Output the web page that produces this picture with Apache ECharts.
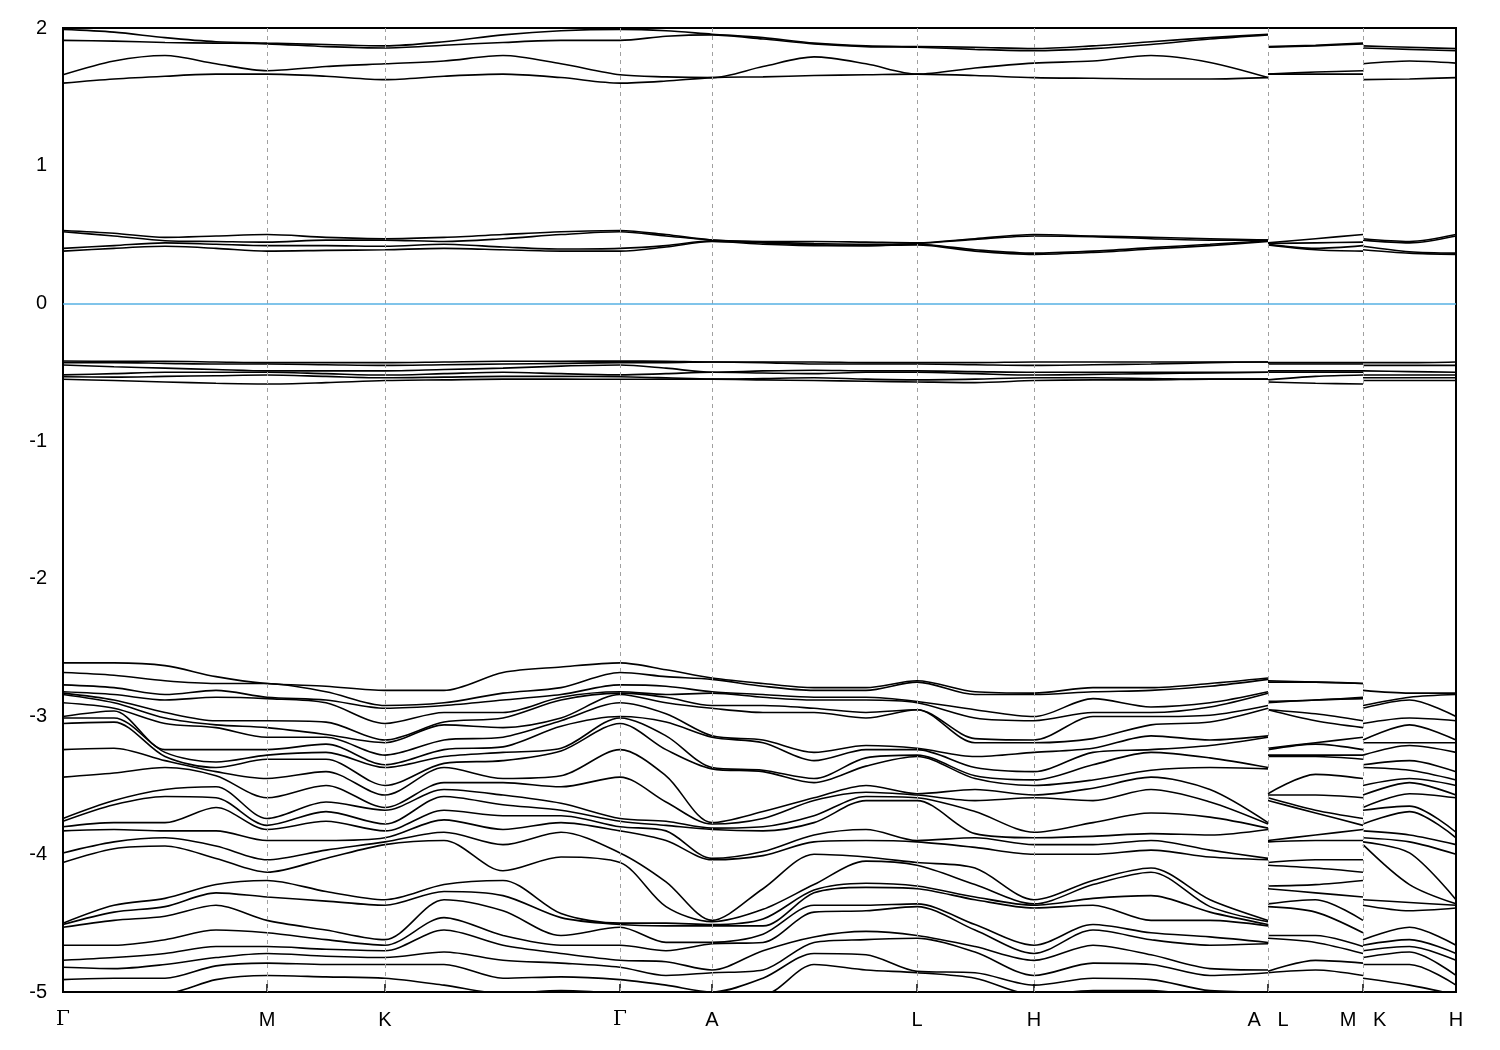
<!DOCTYPE html>
<html><head><meta charset="utf-8">
<script src="https://cdn.jsdelivr.net/npm/echarts@6/dist/echarts.min.js"></script>
<style>html,body{margin:0;padding:0;background:#fff}#c{width:1500px;height:1050px}</style>
</head><body><div id="c"></div>
<script>
// k-path coordinates (path distance units)
const kMain = [0,51,102,153,204,263,322,381,440,498,557,603,649,700,751,803,854,912,971,1030,1088,1147,1205];
const kLM = [1205,1252.5,1300];
const kKH = [1300,1346.5,1393];
const symPos = [0,204,322,557,649,854,971,1205,1300,1393];
const symLabels = ['Γ','M','K','Γ','A','L','H','A   L','M   K','H'];

// lower valence manifold: energies (eV) at each k column
const lowG = [-2.61,-2.68,-2.77,-2.82,-2.83,-2.84,-2.90,-3.00,-3.01,-3.05,-3.24,-3.44,-3.74,-3.76,-3.80,-3.83,-3.99,-4.06,-4.50,-4.51,-4.53,-4.66,-4.77,-4.82,-4.91,-5.01];
const gm1 = [-2.61,-2.70,-2.79,-2.84,-2.88,-2.90,-2.94,-2.96,-3.01,-3.04,-3.23,-3.41,-3.61,-3.64,-3.77,-3.82,-3.91,-3.96,-4.37,-4.42,-4.48,-4.66,-4.75,-4.83,-4.90,-5.00];
const gm2 = [-2.63,-2.74,-2.84,-2.88,-2.97,-3.01,-3.05,-3.24,-3.26,-3.29,-3.32,-3.37,-3.53,-3.58,-3.77,-3.83,-3.88,-3.94,-4.32,-4.38,-4.45,-4.62,-4.72,-4.80,-4.90,-5.01];
const gm3 = [-2.71,-2.76,-2.81,-2.86,-3.03,-3.06,-3.08,-3.24,-3.33,-3.37,-3.40,-3.43,-3.51,-3.59,-3.66,-3.83,-3.94,-4.03,-4.22,-4.28,-4.37,-4.55,-4.67,-4.75,-4.81,-4.91];
const lowM = [-2.76,-2.76,-2.86,-2.87,-3.03,-3.08,-3.15,-3.24,-3.28,-3.31,-3.45,-3.59,-3.74,-3.79,-3.82,-3.90,-4.04,-4.13,-4.19,-4.31,-4.48,-4.57,-4.67,-4.72,-4.79,-4.88];
const mk1 = [-2.78,-2.82,-2.88,-2.90,-3.04,-3.13,-3.15,-3.20,-3.26,-3.31,-3.40,-3.50,-3.62,-3.69,-3.76,-3.90,-3.97,-4.03,-4.27,-4.34,-4.55,-4.62,-4.69,-4.74,-4.80,-4.89];
const lowK = [-2.81,-2.92,-2.94,-3.05,-3.17,-3.19,-3.28,-3.35,-3.37,-3.50,-3.57,-3.66,-3.68,-3.78,-3.83,-3.88,-3.91,-3.93,-4.33,-4.37,-4.62,-4.66,-4.70,-4.75,-4.80,-4.90];
const kg1 = [-2.81,-2.90,-2.92,-2.97,-3.04,-3.06,-3.17,-3.24,-3.29,-3.34,-3.37,-3.48,-3.53,-3.58,-3.68,-3.75,-3.84,-3.90,-4.22,-4.27,-4.33,-4.46,-4.55,-4.71,-4.80,-4.95];
const kg2 = [-2.68,-2.83,-2.88,-2.97,-3.01,-3.08,-3.15,-3.22,-3.26,-3.32,-3.45,-3.48,-3.57,-3.64,-3.72,-3.82,-3.93,-4.12,-4.19,-4.30,-4.41,-4.59,-4.66,-4.77,-4.90,-5.01];
const kg3 = [-2.64,-2.79,-2.84,-2.86,-2.88,-3.01,-3.03,-3.07,-3.23,-3.25,-3.43,-3.51,-3.63,-3.68,-3.72,-3.77,-3.84,-4.02,-4.43,-4.46,-4.59,-4.66,-4.72,-4.79,-4.89,-4.99];
const ga1 = [-2.66,-2.71,-2.78,-2.84,-2.86,-2.90,-2.98,-3.04,-3.14,-3.24,-3.43,-3.62,-3.76,-3.79,-3.83,-3.90,-4.20,-4.38,-4.50,-4.52,-4.64,-4.70,-4.78,-4.88,-4.95,-5.03];
const lowA = [-2.72,-2.73,-2.82,-2.83,-2.92,-2.94,-3.14,-3.15,-3.37,-3.38,-3.77,-3.78,-3.81,-3.82,-4.03,-4.04,-4.48,-4.49,-4.51,-4.52,-4.64,-4.65,-4.84,-4.86,-5.00,-5.01];
const al1 = [-2.76,-2.78,-2.84,-2.86,-2.92,-2.97,-3.17,-3.19,-3.39,-3.40,-3.69,-3.74,-3.80,-3.83,-3.98,-4.01,-4.25,-4.40,-4.47,-4.52,-4.58,-4.64,-4.70,-4.84,-4.90,-5.02];
const al2 = [-2.79,-2.81,-2.86,-2.88,-2.94,-2.97,-3.26,-3.32,-3.45,-3.48,-3.59,-3.61,-3.72,-3.77,-3.86,-3.91,-4.00,-4.22,-4.26,-4.28,-4.37,-4.42,-4.60,-4.64,-4.72,-4.80];
const al3 = [-2.79,-2.81,-2.86,-2.88,-2.97,-3.01,-3.21,-3.24,-3.30,-3.36,-3.50,-3.55,-3.58,-3.61,-3.82,-3.90,-4.02,-4.05,-4.21,-4.24,-4.37,-4.41,-4.56,-4.62,-4.73,-4.84];
const lowL = [-2.74,-2.75,-2.89,-2.90,-2.95,-2.95,-3.23,-3.24,-3.28,-3.29,-3.56,-3.57,-3.59,-3.61,-3.90,-3.91,-4.06,-4.08,-4.23,-4.25,-4.36,-4.38,-4.59,-4.61,-4.85,-4.86];
const lh1 = [-2.82,-2.84,-2.95,-3.01,-3.16,-3.19,-3.29,-3.37,-3.43,-3.45,-3.53,-3.61,-3.69,-3.85,-3.88,-3.95,-4.10,-4.22,-4.31,-4.33,-4.51,-4.55,-4.67,-4.71,-4.86,-4.90];
const lowH = [-2.83,-2.84,-3.00,-3.03,-3.17,-3.19,-3.26,-3.40,-3.46,-3.50,-3.57,-3.59,-3.84,-3.88,-3.93,-4.00,-4.33,-4.36,-4.37,-4.39,-4.66,-4.72,-4.77,-4.88,-4.95,-5.02];
const ha1 = [-2.79,-2.82,-2.87,-2.97,-3.00,-3.16,-3.23,-3.26,-3.35,-3.46,-3.52,-3.61,-3.77,-3.87,-3.93,-4.00,-4.19,-4.22,-4.32,-4.37,-4.51,-4.55,-4.66,-4.79,-4.90,-4.99];
const ha2 = [-2.79,-2.81,-2.93,-2.97,-3.00,-3.06,-3.14,-3.24,-3.26,-3.39,-3.44,-3.53,-3.70,-3.85,-3.90,-3.97,-4.10,-4.13,-4.30,-4.48,-4.57,-4.62,-4.73,-4.80,-4.91,-4.99];
const ha3 = [-2.76,-2.78,-2.90,-2.93,-2.99,-3.04,-3.17,-3.21,-3.30,-3.37,-3.53,-3.62,-3.73,-3.86,-3.97,-4.02,-4.33,-4.38,-4.42,-4.48,-4.60,-4.66,-4.83,-4.88,-4.99,-5.03];
const lm1 = [-2.75,-2.75,-2.88,-2.88,-2.98,-3.03,-3.19,-3.20,-3.28,-3.29,-3.42,-3.57,-3.68,-3.70,-3.86,-3.90,-4.04,-4.10,-4.22,-4.28,-4.33,-4.42,-4.59,-4.64,-4.77,-4.84];
const kh1 = [-2.83,-2.86,-2.88,-3.01,-3.06,-3.19,-3.21,-3.32,-3.39,-3.45,-3.48,-3.56,-3.65,-3.69,-3.86,-3.91,-3.99,-4.22,-4.35,-4.41,-4.53,-4.62,-4.67,-4.71,-4.80,-4.95];

// conduction bands near 1.6-2.0 eV (main path, L-M, K-H)
const cb1 = [1.99,1.97,1.93,1.90,1.89,1.88,1.87,1.90,1.95,1.98,1.99,1.98,1.955,1.93,1.89,1.87,1.865,1.86,1.85,1.87,1.90,1.93,1.955];
const cb2 = [1.91,1.905,1.895,1.89,1.885,1.865,1.855,1.875,1.895,1.91,1.91,1.94,1.95,1.92,1.885,1.865,1.86,1.845,1.835,1.85,1.88,1.92,1.95];
const cb3 = [1.66,1.76,1.80,1.74,1.69,1.72,1.74,1.76,1.80,1.74,1.66,1.645,1.64,1.72,1.79,1.74,1.665,1.71,1.745,1.76,1.80,1.75,1.64];
const cb4 = [1.60,1.63,1.65,1.665,1.665,1.65,1.625,1.65,1.665,1.64,1.60,1.615,1.64,1.645,1.655,1.66,1.665,1.655,1.64,1.635,1.63,1.63,1.64];
const cbLM = [[1.865,1.875,1.89],[1.86,1.87,1.885],[1.665,1.68,1.69],[1.665,1.665,1.665]];
const cbKH = [[1.87,1.86,1.85],[1.855,1.845,1.835],[1.74,1.76,1.745],[1.625,1.63,1.64]];

// bands near 0.35-0.55 eV
const mb1 = [0.53,0.51,0.48,0.49,0.50,0.48,0.47,0.48,0.50,0.52,0.53,0.50,0.46,0.45,0.45,0.445,0.44,0.47,0.50,0.49,0.48,0.47,0.46];
const mb2 = [0.52,0.49,0.455,0.45,0.445,0.46,0.46,0.45,0.47,0.50,0.52,0.49,0.46,0.44,0.425,0.42,0.435,0.465,0.49,0.485,0.47,0.46,0.46];
const mb3 = [0.40,0.42,0.44,0.43,0.42,0.42,0.415,0.43,0.41,0.395,0.40,0.42,0.455,0.445,0.435,0.43,0.43,0.39,0.365,0.38,0.405,0.43,0.455];
const mb4 = [0.38,0.40,0.415,0.40,0.38,0.385,0.39,0.40,0.39,0.38,0.38,0.41,0.45,0.43,0.42,0.42,0.425,0.38,0.356,0.37,0.395,0.42,0.45];
const mbLM = [[0.44,0.47,0.50],[0.435,0.44,0.445],[0.43,0.40,0.42],[0.425,0.39,0.38]];
const mbKH = [[0.47,0.45,0.50],[0.46,0.44,0.49],[0.415,0.375,0.365],[0.39,0.365,0.356]];

// valence bands near -0.5 eV
const vb1 = [-0.418,-0.42,-0.42,-0.425,-0.43,-0.43,-0.43,-0.425,-0.42,-0.42,-0.418,-0.42,-0.425,-0.425,-0.425,-0.43,-0.43,-0.43,-0.425,-0.425,-0.425,-0.425,-0.425];
const vb2 = [-0.43,-0.43,-0.435,-0.44,-0.44,-0.445,-0.45,-0.445,-0.44,-0.435,-0.43,-0.43,-0.425,-0.43,-0.44,-0.44,-0.44,-0.445,-0.45,-0.445,-0.44,-0.43,-0.425];
const vb3 = [-0.447,-0.46,-0.47,-0.48,-0.49,-0.49,-0.49,-0.48,-0.47,-0.455,-0.447,-0.47,-0.50,-0.49,-0.485,-0.49,-0.49,-0.495,-0.50,-0.50,-0.50,-0.50,-0.50];
const vb4 = [-0.519,-0.51,-0.50,-0.50,-0.50,-0.51,-0.52,-0.51,-0.50,-0.51,-0.519,-0.51,-0.50,-0.505,-0.51,-0.50,-0.50,-0.51,-0.52,-0.515,-0.51,-0.505,-0.50];
const vb5 = [-0.532,-0.535,-0.53,-0.525,-0.52,-0.53,-0.54,-0.535,-0.53,-0.53,-0.532,-0.54,-0.55,-0.545,-0.54,-0.55,-0.555,-0.55,-0.54,-0.54,-0.545,-0.55,-0.55];
const vb6 = [-0.551,-0.56,-0.57,-0.58,-0.585,-0.575,-0.56,-0.555,-0.55,-0.55,-0.551,-0.55,-0.55,-0.555,-0.56,-0.565,-0.57,-0.575,-0.56,-0.555,-0.555,-0.55,-0.55];
const vbLM = [[-0.43,-0.43,-0.43],[-0.44,-0.44,-0.44],[-0.49,-0.49,-0.49],[-0.50,-0.50,-0.50],[-0.555,-0.53,-0.52],[-0.57,-0.58,-0.585]];
const vbKH = [[-0.43,-0.43,-0.425],[-0.45,-0.45,-0.45],[-0.49,-0.495,-0.50],[-0.52,-0.52,-0.52],[-0.54,-0.54,-0.54],[-0.56,-0.56,-0.56]];

const lowMainCols = [lowG,gm1,gm2,gm3,lowM,mk1,lowK,kg1,kg2,kg3,lowG,ga1,lowA,al1,al2,al3,lowL,lh1,lowH,ha1,ha2,ha3,lowA];
const lowLMCols = [lowL,lm1,lowM];
const lowKHCols = [lowK,kh1,lowH];

const series = [];
const lineStyle = {color:'#000', width:1.6};
function addLine(ks, vals){
  series.push({type:'line', data: ks.map((k,j)=>[k, vals[j]]), symbol:'none', smooth:0.3,
    lineStyle: lineStyle, silent:true, animation:false, z:3});
}
function addColumns(ks, cols){
  const sorted = cols.map(c => c.slice().sort((a,b)=>b-a));
  const nb = sorted[0].length;
  for(let i=0;i<nb;i++) addLine(ks, sorted.map(c=>c[i]));
}
addColumns(kMain, lowMainCols);
addColumns(kLM, lowLMCols);
addColumns(kKH, lowKHCols);
[cb1,cb2,cb3,cb4,mb1,mb2,mb3,mb4,vb1,vb2,vb3,vb4,vb5,vb6].forEach(b=>addLine(kMain,b));
[...cbLM,...mbLM,...vbLM].forEach(b=>addLine(kLM,b));
[...cbKH,...mbKH,...vbKH].forEach(b=>addLine(kKH,b));

// reference lines: high-symmetry verticals and Fermi level
series.push({type:'line', data:[], silent:true, animation:false, z:1,
  markLine:{symbol:['none','none'], silent:true, animation:false, label:{show:false},
    data: symPos.slice(1,-1).map(v=>({xAxis:v, lineStyle:{color:'#a0a0a0', type:[4,4], width:1}}))
      .concat([{yAxis:0, lineStyle:{color:'#56b1e3', type:'solid', width:1.5}}])
  }
});

const chart = echarts.init(document.getElementById('c'), null, {renderer:'canvas'});
chart.setOption({
  backgroundColor:'#fff',
  animation:false,
  grid:{left:63, right:44, top:28, bottom:58, show:true, borderColor:'#000', borderWidth:2, backgroundColor:'transparent'},
  xAxis:{type:'value', min:0, max:1393,
    axisLine:{show:false, onZero:false}, splitLine:{show:false},
    axisTick:{show:true, inside:true, length:8, customValues:symPos.slice(1,-1), lineStyle:{color:'#000', width:1.5}},
    axisLabel:{customValues:symPos, margin:18, fontSize:20, color:'#000', fontFamily:'Liberation Sans, Arial, sans-serif',
      formatter:function(v){ const i = symPos.indexOf(v); const t = i>=0 ? symLabels[i] : ''; return t==='Γ' ? '{g|Γ}' : t; },
      rich:{g:{fontFamily:'DejaVu Serif, Liberation Serif, serif', fontSize:20, color:'#000'}}
    }
  },
  yAxis:{type:'value', min:-5, max:2, interval:1,
    axisLine:{show:false, onZero:false}, splitLine:{show:false},
    axisTick:{show:false},
    axisLabel:{fontSize:20, color:'#000', margin:16, fontFamily:'Liberation Sans, Arial, sans-serif'}
  },
  series: series
});
</script></body></html>
